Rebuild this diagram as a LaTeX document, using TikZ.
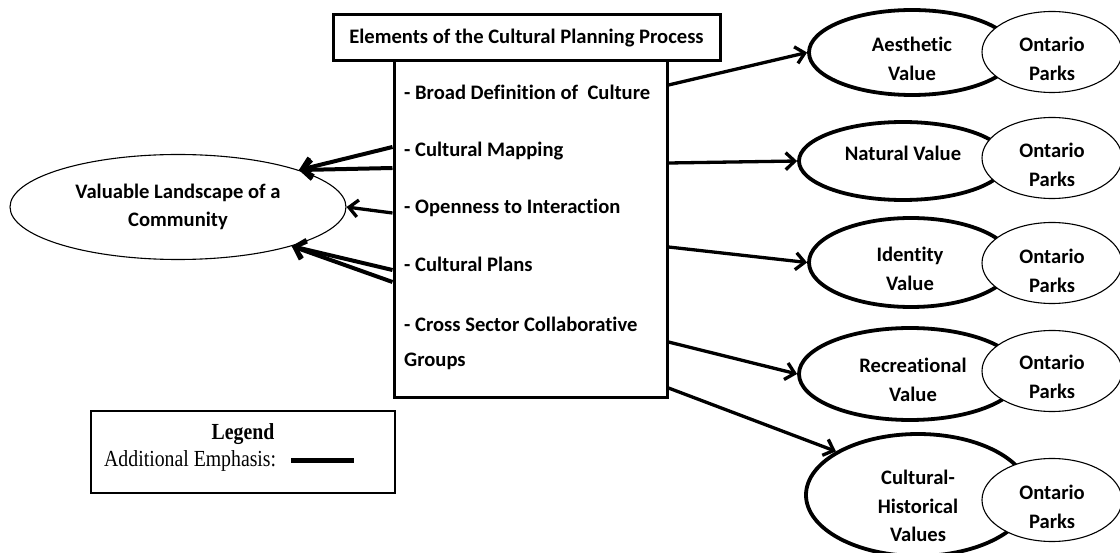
\documentclass[tikz,border=0pt]{standalone}
\usepackage{fontspec}
\setmainfont{Carlito}[Ligatures=NoCommon]
\newfontfamily\legfont{Liberation Serif}[FakeStretch=0.86]
\usetikzlibrary{shapes.geometric,arrows.meta}
\begin{document}
\begin{tikzpicture}[x=1pt,y=-1pt,
  every node/.style={font=\fontsize{20.6}{28.5}\selectfont\bfseries, inner sep=0pt},
  boxnode/.style={draw, line width=3pt, rectangle},
  item/.style={anchor=base west},
  lbl/.style={align=center},
  thickell/.style={draw, ellipse, line width=3.8pt},
  thinell/.style={draw, ellipse, line width=1.1pt, fill=white,
                  minimum width=140pt, minimum height=81pt},
  arr/.style={line width=3.3pt, -{Straight Barb[length=9pt,width=17pt]}},
  larr/.style={line width=4pt, -{Straight Barb[length=10pt,width=19pt]}},
  legtext/.style={font=\legfont\fontsize{23}{26}\selectfont}]
\useasboundingbox (0,0) rectangle (1120,553);

% central boxes
\node[boxnode, minimum width=273pt, minimum height=337pt] (main) at (530.5,229.5) {};
\node[boxnode, fill=white, minimum width=387pt, minimum height=46pt] (title) at (526.5,38)
  {Elements of the Cultural Planning Process};

\node[item] (i1) at (404,100) {- Broad Definition of \ Culture};
\node[item] (i2) at (404,157) {- Cultural Mapping};
\node[item] (i3) at (404,214) {- Openness to Interaction};
\node[item] (i4) at (404,272) {- Cultural Plans};
\node[item] (i5) at (404,332) {- Cross Sector Collaborative};
\node[item] (i6) at (404,367) {Groups};

% left ellipse
\node[draw, ellipse, line width=1.1pt, align=center, minimum width=336pt, minimum height=105pt]
  (vl) at (178,207) {Valuable Landscape of a\\Community};

% right value ellipses
\node[thickell, minimum width=206pt, minimum height=85pt] (aes) at (912,52.5) {};
\node[thickell, minimum width=208pt, minimum height=78pt] (nat) at (903,161) {};
\node[thickell, minimum width=204pt, minimum height=89pt] (idt) at (911,262.5) {};
\node[thickell, minimum width=222pt, minimum height=92pt] (rec) at (910,374) {};
\node[thickell, minimum width=224pt, minimum height=122pt] (ch) at (918,495) {};

\node[lbl] (aest) at (912,59) {Aesthetic\\Value};
\node[lbl] (natt) at (903,153) {Natural Value};
\node[lbl] (idtt) at (910,269) {Identity\\Value};
\node[lbl] (rect) at (913,380) {Recreational\\Value};
\node[lbl] (cht)  at (918,506) {Cultural-\\Historical\\Values};

% Ontario Parks ellipses
\node[thinell] (o1) at (1052,52) {};
\node[thinell] (o2) at (1052,158) {};
\node[thinell] (o3) at (1052,263) {};
\node[thinell] (o4) at (1052,371) {};
\node[thinell, minimum height=83pt] (o5) at (1052,500) {};

\node[lbl] (o1t) at (1052,59) {Ontario\\Parks};
\node[lbl] (o2t) at (1052,165) {Ontario\\Parks};
\node[lbl] (o3t) at (1052,271) {Ontario\\Parks};
\node[lbl] (o4t) at (1052,377) {Ontario\\Parks};
\node[lbl] (o5t) at (1052,507) {Ontario\\Parks};

% start points on the main box
\coordinate (l1) at (main.west |- 0,147);
\coordinate (l2) at (main.west |- 0,168);
\coordinate (l3) at (main.west |- 0,213);
\coordinate (l4) at (main.west |- 0,270);
\coordinate (l5) at (main.west |- 0,282);
\coordinate (r1) at (main.east |- 0,85);
\coordinate (r2) at (main.east |- 0,163);
\coordinate (r3) at (main.east |- 0,247);
\coordinate (r4) at (main.east |- 0,342);
\coordinate (r5) at (main.east |- 0,388);

% arrows to the left
\draw[larr] (l1) -- (vl.17);
\draw[larr] (l2) -- (vl.17);
\draw[arr]  (l3) -- (vl.east);
\draw[larr] (l4) -- (vl.-19);
\draw[larr] (l5) -- (vl.-19);

% arrows to the right
\draw[arr] (r1) -- (aes.west);
\draw[arr] (r2) -- (nat.west);
\draw[arr] (r3) -- (idt.west);
\draw[arr] (r4) -- (rec.west);
\draw[arr] (r5) -- (ch.152);

% legend
\node[draw, line width=1.1pt, minimum width=304pt, minimum height=82pt] (leg) at (243,452) {};
\node[legtext, font=\legfont\bfseries\fontsize{23}{26}\selectfont, anchor=base] (legt) at (243,439) {Legend};
\node[legtext, anchor=base west] (lege) at (104,466) {Additional Emphasis:};
\coordinate (ls) at (291,460);
\coordinate (le) at (354,460);
\draw[line width=5pt] (ls) -- (le);
\end{tikzpicture}
\end{document}
